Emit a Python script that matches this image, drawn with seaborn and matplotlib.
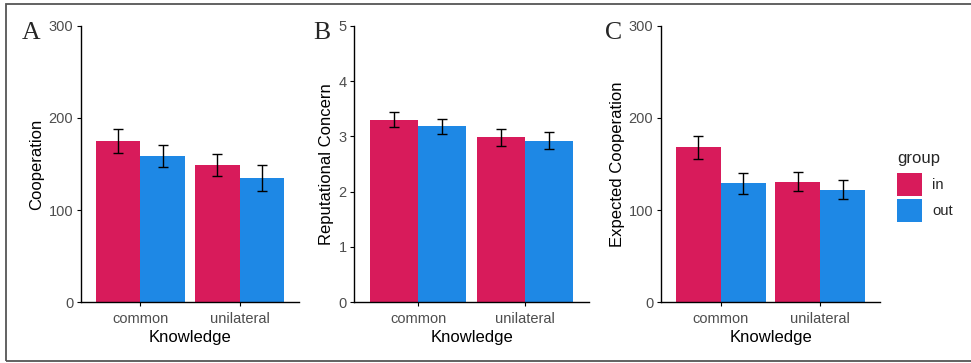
import matplotlib
matplotlib.use("Agg")
import matplotlib.pyplot as plt
import seaborn as sns
import pandas as pd
from matplotlib.patches import Rectangle

# ---- data ----
knowledge = ["common", "unilateral"]
groups = ["in", "out"]

coop_in = [175, 149]
coop_out = [159, 135]
coop_in_se = [13, 12]
coop_out_se = [12, 14]

rep_in = [3.30, 2.98]
rep_out = [3.18, 2.92]
rep_in_se = [0.14, 0.155]
rep_out_se = [0.14, 0.15]

exp_in = [168, 131]
exp_out = [129, 122]
exp_in_se = [12.5, 10.5]
exp_out_se = [11, 10.5]

panel_labels = ["A", "B", "C"]
ylabels = ["Cooperation", "Reputational Concern", "Expected Cooperation"]
yticks_list = [[0, 100, 200, 300], [0, 1, 2, 3, 4, 5], [0, 100, 200, 300]]
ylims = [(0, 300), (0, 5), (0, 300)]

palette = {"in": "#D81B5B", "out": "#1E88E5"}

sns.set_theme(style="ticks")
plt.rcParams["font.family"] = ["Liberation Sans", "DejaVu Sans"]

W, H = 971, 363
fig = plt.figure(figsize=(W / 100, H / 100), dpi=100)

# axes boxes in pixel coords: (left, right)
boxes = [(81, 299), (354.3, 588.7), (661, 880)]
top_px, bot_px = 25.7, 302.3

datasets = [
    (coop_in, coop_out, coop_in_se, coop_out_se),
    (rep_in, rep_out, rep_in_se, rep_out_se),
    (exp_in, exp_out, exp_in_se, exp_out_se),
]
label_x = [22, 313, 605]

for i, ((l, r), (vin, vout, sin, sout)) in enumerate(zip(boxes, datasets)):
    ax = fig.add_axes([l / W, (H - bot_px) / H, (r - l) / W, (bot_px - top_px) / H])
    df = pd.DataFrame({
        "Knowledge": knowledge * 2,
        "group": [groups[0]] * 2 + [groups[1]] * 2,
        "value": list(vin) + list(vout),
        "se": list(sin) + list(sout),
    })
    sns.barplot(data=df, x="Knowledge", y="value", hue="group", hue_order=groups,
                order=knowledge, palette=palette, saturation=1, width=0.9,
                errorbar=None, linewidth=0, ax=ax, legend=(i == 2))
    for cont, g in zip(ax.containers, groups):
        sub = df[df["group"] == g].set_index("Knowledge").loc[knowledge]
        xs = [p.get_x() + p.get_width() / 2 for p in cont.patches]
        ax.errorbar(xs, sub["value"].values, yerr=sub["se"].values, fmt="none",
                    ecolor="black", elinewidth=1.0, capsize=3.3, capthick=1.0, zorder=5)
    ax.set_xlim(-0.6, 1.6)
    ax.set_ylim(*ylims[i])
    ax.set_yticks(yticks_list[i])
    ax.set_ylabel(ylabels[i], fontsize=12, color="black", labelpad=3)
    ax.set_xlabel("Knowledge", fontsize=12, color="black", labelpad=3)
    ax.tick_params(axis="both", labelsize=10.5, colors="black", labelcolor="#4D4D4D",
                   length=3, width=0.8, pad=2.5)
    ax.tick_params(axis="x", pad=4)
    for s in ["top", "right"]:
        ax.spines[s].set_visible(False)
    for s in ["left", "bottom"]:
        ax.spines[s].set_color("black")
        ax.spines[s].set_linewidth(1.0)
    fig.text(label_x[i] / W, 1 - 33 / H, panel_labels[i], fontsize=18.5,
             family=["Liberation Serif", "DejaVu Serif"], va="center", ha="left")
    if i == 2:
        leg = ax.legend(title="group", loc="upper left",
                        bbox_to_anchor=(897 / W, 1 - 151 / H),
                        bbox_transform=fig.transFigure, frameon=False,
                        fontsize=10.7, title_fontsize=12, handlelength=1.66,
                        handleheight=2.0, labelspacing=0.18, handletextpad=0.72,
                        borderpad=0, borderaxespad=0, alignment="left")
        try:
            leg._legend_box.sep = 5.0
        except Exception:
            pass

fig.patches.append(Rectangle((5.5 / W, 1 - 361 / H), (975 - 5.5) / W, (361 - 4) / H,
                             transform=fig.transFigure, fill=False,
                             edgecolor="#555555", linewidth=1.3))

fig.savefig("out.png", dpi=100)
